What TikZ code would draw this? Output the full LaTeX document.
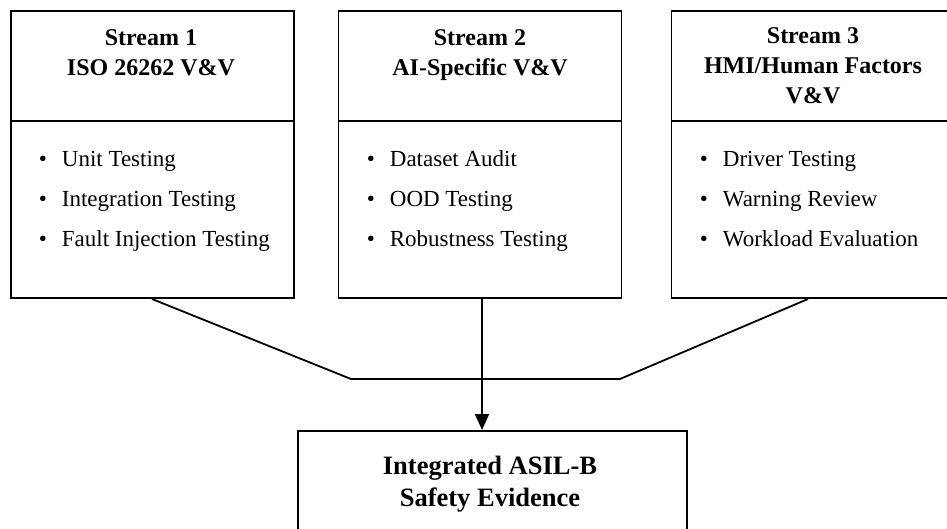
\documentclass[tikz,border=0pt]{standalone}
\usepackage{fontspec}
\setmainfont{Liberation Serif}
\usetikzlibrary{arrows.meta}
\begin{document}
\begin{tikzpicture}[x=1pt,y=-1pt,
  line width=1.8pt,
  streambox/.style={draw,rectangle,minimum width=283pt,minimum height=287pt,inner sep=0pt},
  titletext/.style={align=center,font=\fontsize{24}{30}\selectfont\bfseries,anchor=north,inner sep=0pt},
  itemtext/.style={anchor=base west,font=\fontsize{23}{27}\selectfont,inner sep=0pt},
  bullettext/.style={anchor=base,font=\fontsize{23}{27}\selectfont,inner sep=0pt},
  goalbox/.style={draw,rectangle,minimum width=389pt,minimum height=140pt,inner sep=0pt},
  goaltext/.style={align=center,font=\fontsize{26.5}{32}\selectfont\bfseries,anchor=north,inner sep=0pt}]
\useasboundingbox (0,0) rectangle (947,529);
\begin{scope}
\clip (0,0) rectangle (947,529);
% boxes
\node[streambox] (s1) at (152.5,154.5) {};
\node[streambox] (s2) at (480,154.5) {};
\node[streambox] (s3) at (813,154.5) {};
\node[goalbox] (g) at (492.5,501) {};
% dividers
\foreach \b in {s1,s2,s3}{
  \coordinate (\b dl) at ([yshift=-111pt]\b.north west);
  \coordinate (\b dr) at ([yshift=-111pt]\b.north east);
  \draw (\b dl) -- (\b dr);
}
% titles
\node[titletext] (t1) at (151,29) {Stream 1\\ISO 26262 V\&V};
\node[titletext] (t2) at (480,29) {Stream 2\\AI-Specific V\&V};
\node[titletext] (t3) at (813,27) {Stream 3\\HMI/Human Factors\\V\&V};
% bullets
\foreach \x/\b/\lista/\listb/\listc in {11/s1/Unit Testing/Integration Testing/Fault Injection Testing,
  339/s2/Dataset Audit/OOD Testing/Robustness Testing,
  672/s3/Driver Testing/Warning Review/Workload Evaluation}{
  \node[bullettext] (\b b1) at (\x+32,167) {\textbullet};
  \node[itemtext] (\b i1) at (\x+50,167) {\lista};
  \node[bullettext] (\b b2) at (\x+32,207) {\textbullet};
  \node[itemtext] (\b i2) at (\x+50,207) {\listb};
  \node[bullettext] (\b b3) at (\x+32,247) {\textbullet};
  \node[itemtext] (\b i3) at (\x+50,247) {\listc};
}
% goal text
\node[goaltext] (gt) at (490,455) {Integrated ASIL-B\\Safety Evidence};
% connectors
\coordinate (c1) at (152,299);
\coordinate (c3) at (808,299);
\coordinate (m1) at (351,379);
\coordinate (m2) at (620,379);
\coordinate (a0) at (482,299);
\coordinate (a1) at (482,430);
\draw (c1) -- (m1) -- (m2) -- (c3);
\draw[-{Triangle[length=16pt,width=14pt]}] (a0) -- (a1);
\end{scope}
\end{tikzpicture}
\end{document}
